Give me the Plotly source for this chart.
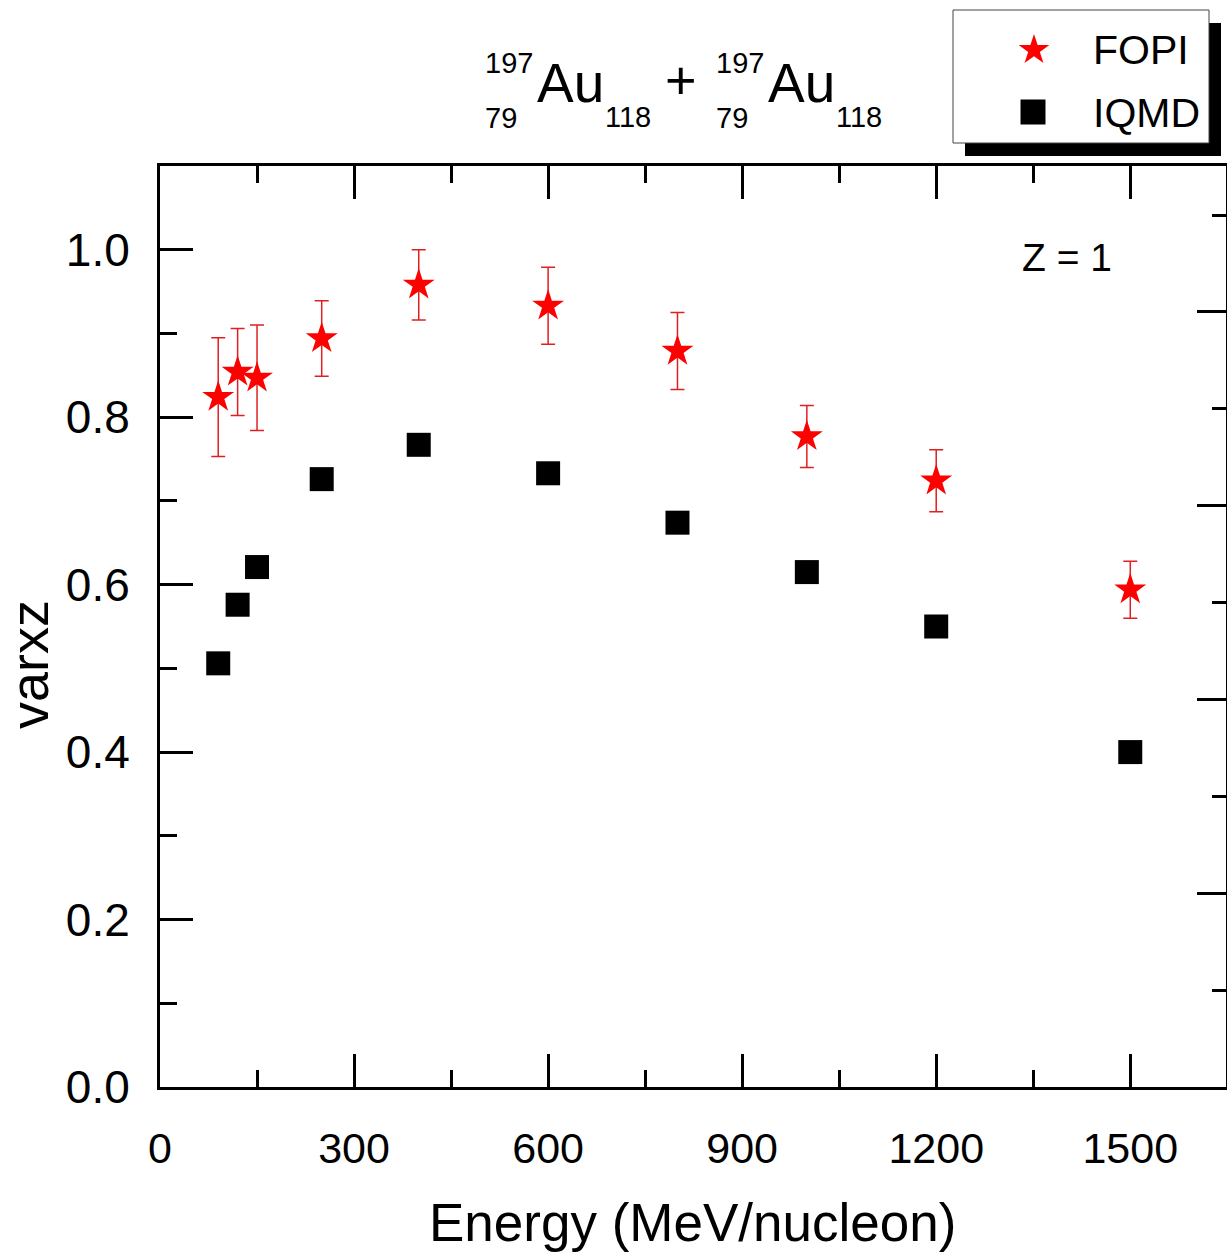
import plotly.graph_objects as go

# ---- data ----
energy = [90, 120, 150, 250, 400, 600, 800, 1000, 1200, 1500]
fopi_varxz = [0.824, 0.854, 0.847, 0.894, 0.958, 0.933, 0.879, 0.777, 0.724, 0.594]
fopi_err = [0.071, 0.052, 0.063, 0.045, 0.042, 0.046, 0.046, 0.037, 0.037, 0.034]
iqmd_varxz = [0.506, 0.576, 0.621, 0.726, 0.767, 0.733, 0.674, 0.615, 0.550, 0.400]

series_names = ["FOPI", "IQMD"]
x_ticks = [0, 300, 600, 900, 1200, 1500]
y_ticks = [0.0, 0.2, 0.4, 0.6, 0.8, 1.0]

# ---- geometry (pixels) ----
W, H = 1227, 1254
PL, PR, PT, PB = 160, 1226, 166, 1087
FONT = "Liberation Sans, Arial, sans-serif"


def px(x):
    return x / W


def py(y):
    return 1 - y / H


fig = go.Figure()

fig.add_trace(go.Scatter(
    x=energy, y=fopi_varxz, mode="markers", name=series_names[0],
    marker=dict(symbol="star", size=24, color="#ff0000", line=dict(width=0)),
    error_y=dict(type="data", array=fopi_err, visible=True,
                 color="#e02020", thickness=1.5, width=7),
    showlegend=False, cliponaxis=False,
))
fig.add_trace(go.Scatter(
    x=energy, y=iqmd_varxz, mode="markers", name=series_names[1],
    marker=dict(symbol="square", size=24, color="#000000", line=dict(width=0)),
    showlegend=False, cliponaxis=False,
))

# empty trace that keeps the right-hand axis alive
fig.add_trace(go.Scatter(x=[None], y=[None], yaxis="y2", showlegend=False,
                         hoverinfo="skip"))

# legend glyphs drawn on a full-figure pixel axis
fig.add_trace(go.Scatter(
    x=[1034], y=[50], xaxis="x3", yaxis="y3", mode="markers",
    marker=dict(symbol="star", size=23, color="#ff0000", line=dict(width=0)),
    showlegend=False, hoverinfo="skip", cliponaxis=False,
))
fig.add_trace(go.Scatter(
    x=[1033], y=[112], xaxis="x3", yaxis="y3", mode="markers",
    marker=dict(symbol="square", size=25, color="#000000", line=dict(width=0)),
    showlegend=False, hoverinfo="skip", cliponaxis=False,
))

axis_common = dict(
    showgrid=False, zeroline=False, showline=True, linecolor="black",
    linewidth=3, ticks="inside", tickcolor="black", tickwidth=3,
    automargin=False,
)

fig.update_layout(
    width=W, height=H,
    margin=dict(l=0, r=0, t=0, b=0, autoexpand=False),
    paper_bgcolor="white", plot_bgcolor="rgba(0,0,0,0)",
    font=dict(family=FONT, color="black"),
    xaxis=dict(
        **axis_common,
        domain=[px(PL), px(PR)], range=[0, 1648], anchor="y",
        tickvals=x_ticks, ticklen=33, mirror="ticks",
        minor=dict(dtick=150, tick0=0, ticks="inside", ticklen=17,
                   tickwidth=3, tickcolor="black"),
        tickfont=dict(size=43, family=FONT), ticklabelstandoff=21,
    ),
    yaxis=dict(
        **axis_common,
        domain=[py(PB), py(PT)], range=[0, 1.1], anchor="x",
        tickvals=y_ticks, tickformat=".1f", ticklen=33,
        minor=dict(dtick=0.1, tick0=0, ticks="inside", ticklen=17,
                   tickwidth=3, tickcolor="black"),
        tickfont=dict(size=46, family=FONT), ticklabelstandoff=18,
    ),
    yaxis2=dict(
        **axis_common,
        overlaying="y", side="right", anchor="x", range=[0, 0.9507],
        dtick=0.2, tick0=0, ticklen=29, showticklabels=False,
        minor=dict(dtick=0.1, tick0=0, ticks="inside", ticklen=14,
                   tickwidth=3, tickcolor="black"),
    ),
    xaxis3=dict(domain=[0, 1], range=[0, W], visible=False, anchor="y3",
                fixedrange=True, automargin=False),
    yaxis3=dict(domain=[0, 1], range=[H, 0], visible=False, anchor="x3",
                fixedrange=True, automargin=False),
)

# legend frame with drop shadow
fig.add_shape(type="rect", xref="paper", yref="paper", layer="below",
              x0=px(965), x1=px(1221), y0=py(156), y1=py(23),
              fillcolor="black", line=dict(width=0))
fig.add_shape(type="rect", xref="paper", yref="paper", layer="below",
              x0=px(953), x1=px(1209), y0=py(143), y1=py(10),
              fillcolor="white", line=dict(color="#444444", width=1))


def label(text, x, y, size, xanchor="left", yanchor="middle", angle=0):
    fig.add_annotation(text=text, x=px(x), y=py(y), xref="paper", yref="paper",
                       showarrow=False, xanchor=xanchor, yanchor=yanchor,
                       textangle=angle, font=dict(size=size, family=FONT,
                                                  color="black"))


label("FOPI", 1091, 50, 41)
label("IQMD", 1091, 113, 41)

# reaction title: two nuclides with pre-scripts
for x0 in (483, 714):
    label("197", x0, 63, 29)
    label("79", x0, 118, 29)
    label("Au", x0 + 52, 83, 55)
    label("118", x0 + 120, 117, 29)
label("+", 681, 80, 54, xanchor="center")

label("Z = 1", 1067, 258, 39, xanchor="center")

# axis titles
label("Energy (MeV/nucleon)", 692, 1222, 53, xanchor="center")
label("varxz", 29, 665, 54, xanchor="center", angle=-90)

fig.write_html("out.html")
